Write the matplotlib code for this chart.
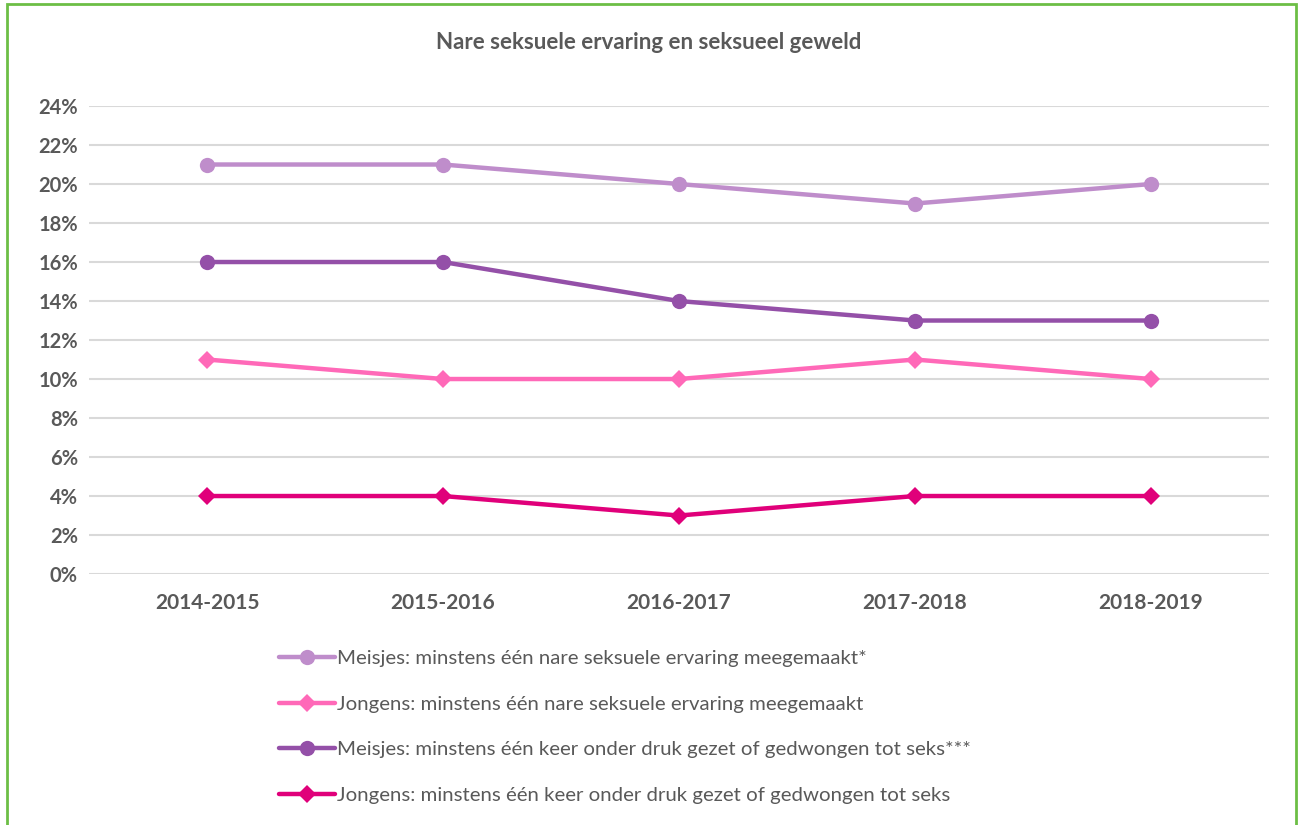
import matplotlib
matplotlib.use("Agg")
import matplotlib.pyplot as plt
from matplotlib.patches import Rectangle
from matplotlib.ticker import FuncFormatter

years = ["2014-2015", "2015-2016", "2016-2017", "2017-2018", "2018-2019"]
meisjes_nare = [21, 21, 20, 19, 20]
jongens_nare = [11, 10, 10, 11, 10]
meisjes_druk = [16, 16, 14, 13, 13]
jongens_druk = [4, 4, 3, 4, 4]

labels = [
    "Meisjes: minstens één nare seksuele ervaring meegemaakt*",
    "Jongens: minstens één nare seksuele ervaring meegemaakt",
    "Meisjes: minstens één keer onder druk gezet of gedwongen tot seks***",
    "Jongens: minstens één keer onder druk gezet of gedwongen tot seks",
]

plt.rcParams["font.family"] = ["Lato", "DejaVu Sans"]
text_col = "#595959"

fig = plt.figure(figsize=(12.98, 8.25), dpi=100)
ax = fig.add_axes([0.0686, 0.3042, 0.909, 0.5673])

x = list(range(len(years)))
series = [
    (meisjes_nare, "#BF8DCB", "o", 11),
    (jongens_nare, "#FF69B8", "D", 9),
    (meisjes_druk, "#9450A8", "o", 11),
    (jongens_druk, "#E0007A", "D", 9),
]
for (vals, col, mk, ms), lab in zip(series, labels):
    ax.plot(x, vals, color=col, linewidth=3.2, marker=mk, markersize=ms,
            markeredgewidth=0, label=lab, solid_capstyle="round")

ax.set_xlim(-0.5, len(years) - 0.5)
ax.set_ylim(0, 24)
ax.set_yticks(range(0, 25, 2))
ax.yaxis.set_major_formatter(FuncFormatter(lambda v, p: f"{v:.0f}%"))
ax.set_xticks(x)
ax.set_xticklabels(years)
for s in ax.spines.values():
    s.set_visible(False)
ax.grid(axis="y", color="#D9D9D9", linewidth=1.5)
ax.set_axisbelow(True)
ax.tick_params(length=0, colors=text_col)
ax.tick_params(axis="y", labelsize=14.5, pad=8)
ax.tick_params(axis="x", labelsize=15, pad=14)
for t in ax.get_xticklabels() + ax.get_yticklabels():
    t.set_fontweight("bold")

fig.text(0.5, 0.949, "Nare seksuele ervaring en seksueel geweld",
         ha="center", va="center", fontsize=16, fontweight="bold", color=text_col)

leg = fig.legend(loc="upper left", bbox_to_anchor=(0.209, 0.222), frameon=False,
                 fontsize=14.7, labelcolor=text_col, handlelength=2.7,
                 handletextpad=0.1, labelspacing=1.38, borderaxespad=0)

fig.patches.append(Rectangle((7 / 1298, -0.01), 1289 / 1298, 1 - 4 / 825 + 0.01,
                             transform=fig.transFigure, fill=False,
                             edgecolor="#6CBE45", linewidth=2))

fig.savefig("out.png", dpi=100)
